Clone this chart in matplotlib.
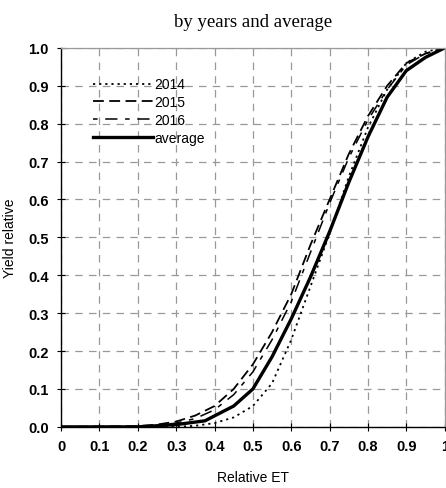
import numpy as np
import matplotlib.pyplot as plt

et_2014 = [0, 0.3, 0.35, 0.4, 0.45, 0.5, 0.55, 0.6, 0.65, 0.7, 0.75, 0.8, 0.85, 0.9, 0.95, 1.0]
y_2014 = [0, 0, 0.003, 0.01, 0.025, 0.055, 0.115, 0.23, 0.37, 0.51, 0.66, 0.79, 0.89, 0.96, 0.99, 1.0]

et_2015 = [0, 0.2, 0.25, 0.3, 0.35, 0.4, 0.45, 0.5, 0.55, 0.6, 0.65, 0.7, 0.75, 0.8, 0.85, 0.9, 0.95, 1.0]
y_2015 = [0, 0.002, 0.006, 0.014, 0.03, 0.055, 0.10, 0.165, 0.25, 0.35, 0.48, 0.60, 0.72, 0.82, 0.90, 0.96, 0.985, 1.0]

et_2016 = et_2015
y_2016 = [0, 0.001, 0.004, 0.01, 0.022, 0.045, 0.085, 0.145, 0.23, 0.33, 0.46, 0.59, 0.71, 0.81, 0.89, 0.955, 0.985, 1.0]

et_avg = [0, 0.1, 0.2, 0.25, 0.3, 0.375, 0.45, 0.5, 0.55, 0.6, 0.65, 0.7, 0.75, 0.8, 0.85, 0.9, 0.95, 1.0]
y_avg = [0, 0, 0, 0.003, 0.006, 0.016, 0.055, 0.10, 0.185, 0.285, 0.395, 0.515, 0.645, 0.765, 0.87, 0.94, 0.975, 1.0]

ticks = np.round(np.arange(0, 1.01, 0.1), 1)
xlabels = ['0'] + [f'{t:.1f}' for t in ticks[1:-1]] + ['1']
ylabels = [f'{t:.1f}' for t in ticks]

fig = plt.figure(figsize=(4.46, 4.89), dpi=100)
ax = fig.add_axes([0.137, 0.125, 0.86, 0.775])

ax.plot(et_2014, y_2014, color='black', lw=1.3, linestyle=(0, (1.2, 2.2)), label='2014')
ax.plot(et_2015, y_2015, color='black', lw=1.3, linestyle=(0, (6, 3)), label='2015')
ax.plot(et_2016, y_2016, color='black', lw=1.1, linestyle=(0, (3, 5, 8, 5)), label='2016')
ax.plot(et_avg, y_avg, color='black', lw=2.4, label='average')

ax.set_xlim(0, 1)
ax.set_ylim(0, 1)
ax.set_xticks(ticks)
ax.set_yticks(ticks)
ax.set_xticklabels(xlabels, fontfamily='Liberation Sans', fontweight='bold', fontsize=10.5)
ax.set_yticklabels(ylabels, fontfamily='Liberation Sans', fontweight='bold', fontsize=10.5)
ax.tick_params(direction='inout', length=6, width=0.8, pad=6)

ax.grid(True, color='#999999', linestyle=(0, (6, 5)), linewidth=0.9)
ax.set_axisbelow(True)
for side in ['top', 'right']:
    ax.spines[side].set_color('#999999')
    ax.spines[side].set_linewidth(0.9)
for side in ['left', 'bottom']:
    ax.spines[side].set_linewidth(1.0)

ax.set_xlabel('Relative ET', fontfamily='Liberation Sans', fontsize=10, labelpad=12)
ax.set_ylabel('Yield relative', fontfamily='Liberation Sans', fontsize=10, labelpad=8)
ax.set_title('by years and average', fontfamily='Liberation Serif', fontsize=13.5, pad=16)

leg = ax.legend(loc='upper left', bbox_to_anchor=(0.05, 0.955), frameon=False,
                handlelength=4.3, handletextpad=0.1, labelspacing=0.28,
                prop={'family': 'Liberation Sans', 'size': 10})

fig.savefig('out.png', dpi=100, facecolor='white')
